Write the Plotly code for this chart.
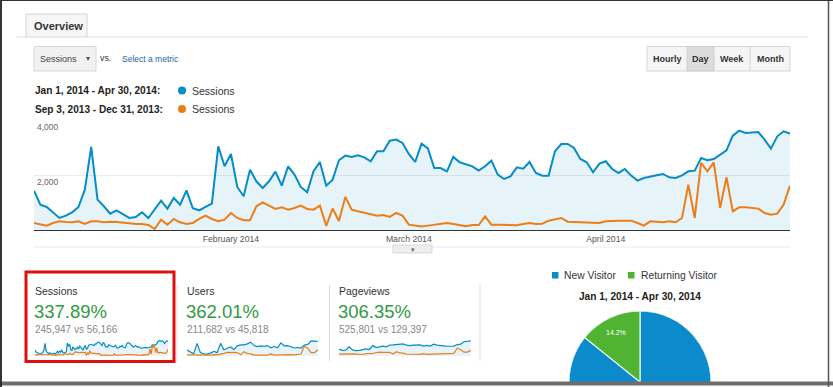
import math
import pandas as pd
import plotly.graph_objects as go

W, H = 833, 387

# ---------------- data ----------------
DATES = pd.date_range("2014-01-01", "2014-04-30", freq="D")

SESSIONS_2014 = [
    1442, 933, 848, 650, 448, 533, 654, 848, 1478, 3030,
    1115, 873, 606, 727, 594, 448, 485, 654, 448, 751,
    1079, 788, 1176, 933, 1454, 800, 727, 848, 970, 3054,
    2327, 2775, 1576, 1236, 2206, 1782, 1539, 1782, 2133, 1624,
    2327, 2024, 1576, 1382, 2145, 2485, 1624, 1842, 2545, 2715,
    2667, 2727, 2654, 2509, 2872, 2872, 3260, 3297, 3175, 2775,
    2485, 3150, 2980, 2266, 2266, 2145, 2667, 2472, 2388, 2327,
    2169, 2327, 2533, 2024, 1866, 1963, 2290, 2242, 2485, 2085,
    1988, 1988, 2872, 3139, 3139, 2994, 2594, 2472, 2109, 2424,
    2509, 2230, 2085, 2230, 1988, 1806, 1903, 1963, 2000, 2048,
    1927, 1903, 2000, 2145, 2169, 2630, 2545, 2594, 2751, 2909,
    3442, 3624, 3539, 3563, 3575, 3297, 2969, 3418, 3600, 3515,
]
SESSIONS_2013 = [
    267, 206, 170, 267, 327, 303, 291, 327, 230, 327,
    327, 291, 315, 303, 267, 255, 230, 230, 194, 48,
    388, 206, 412, 291, 230, 267, 412, 533, 412, 327,
    388, 630, 448, 364, 364, 873, 1018, 897, 776, 836,
    751, 812, 897, 776, 751, 897, 160, 790, 340, 1215,
    751, 691, 630, 570, 533, 557, 485, 630, 533, 206,
    170, 140, 170, 206, 242, 267, 230, 182, 145, 194,
    194, 509, 206, 206, 194, 170, 182, 230, 267, 230,
    242, 351, 388, 448, 315, 303, 291, 267, 255, 267,
    327, 351, 351, 351, 351, 267, 170, 327, 315, 291,
    327, 291, 448, 1660, 448, 2448, 2145, 2472, 812, 1927,
    691, 836, 836, 812, 788, 630, 570, 606, 933, 1624,
]

X_TICK_DATES = ["2014-02-01", "2014-03-01", "2014-04-01"]
X_TICK_LABELS = ["February 2014", "March 2014", "April 2014"]
Y_TICKS = [2000, 4000]
Y_TICK_LABELS = ["2,000", "4,000"]

RANGE_CURRENT = "Jan 1, 2014 - Apr 30, 2014"
RANGE_PREVIOUS = "Sep 3, 2013 - Dec 31, 2013"

METRIC_NAMES = ["Sessions", "Users", "Pageviews"]
METRIC_CHANGES = ["337.89%", "362.01%", "306.35%"]
METRIC_TOTALS = ["245,947 vs 56,166", "211,682 vs 45,818", "525,801 vs 129,397"]

# sparkline samples (every third day)
SPARK_DATES = DATES[::3]
USERS_2014 = [1250, 760, 450, 2600, 700, 420, 400, 600, 950, 700,
              2600, 1300, 1500, 1850, 1300, 2100, 2300, 2300, 2500, 2850,
              2150, 1950, 2100, 2000, 2150, 1700, 1950, 1700, 2700, 2100,
              2150, 1850, 1650, 1750, 1650, 2250, 2400, 3100, 3050, 3000]
USERS_2013 = [230, 250, 270, 280, 270, 220, 200, 180, 300, 250,
              350, 550, 750, 700, 700, 700, 250, 900, 500, 450,
              200, 150, 200, 200, 170, 420, 170, 200, 300, 250,
              260, 300, 250, 270, 400, 2000, 1600, 700, 700, 1300]
PAGEVIEWS_2014 = [3200, 2600, 2700, 4200, 2800, 2500, 2600, 2900, 3300, 3000,
                  4800, 3900, 4300, 4600, 4200, 5000, 5100, 5200, 5300, 5600,
                  5000, 4800, 5000, 4900, 5100, 4600, 4900, 4600, 5500, 5000,
                  5000, 4700, 4500, 4700, 4600, 5300, 5500, 6600, 6800, 7000]
PAGEVIEWS_2013 = [900, 1000, 1000, 1100, 1000, 900, 800, 700, 1100, 1000,
                  1200, 1500, 1800, 1700, 1700, 1700, 900, 2000, 1400, 1300,
                  800, 700, 800, 800, 750, 1100, 750, 800, 1000, 900,
                  950, 1000, 950, 1000, 1200, 3600, 3000, 1800, 1800, 2600]

VISITOR_TYPES = ["New Visitor", "Returning Visitor"]
VISITOR_SHARES = [85.8, 14.2]

BUTTONS = ["Hourly", "Day", "Week", "Month"]

# ---------------- style ----------------
BLUE = "#058dc7"
ORANGE = "#ed7e17"
FILL = "rgba(5,141,199,0.10)"
PIE_BLUE = "#0b8bcb"
PIE_GREEN = "#50b432"
GREEN_TXT = "#339a45"
FONT = "Liberation Sans"


def px(x):
    return x / W


def py(y):
    return 1 - y / H


fig = go.Figure()

# main chart
fig.add_trace(go.Scatter(x=DATES, y=SESSIONS_2014, mode="lines", fill="tozeroy",
                         fillcolor=FILL, line=dict(color=BLUE, width=2),
                         xaxis="x", yaxis="y", hoverinfo="skip"))
fig.add_trace(go.Scatter(x=DATES, y=SESSIONS_2013, mode="lines",
                         line=dict(color=ORANGE, width=2),
                         xaxis="x", yaxis="y", hoverinfo="skip"))

# sparklines
sparks = [
    (DATES, SESSIONS_2014, SESSIONS_2013),
    (SPARK_DATES, USERS_2014, USERS_2013),
    (SPARK_DATES, PAGEVIEWS_2014, PAGEVIEWS_2013),
]
for k, (xs, cur, prev) in enumerate(sparks):
    ax = str(k + 2)
    fig.add_trace(go.Scatter(x=xs, y=cur, mode="lines", fill="tozeroy",
                             fillcolor=FILL, line=dict(color=BLUE, width=1.2),
                             xaxis="x" + ax, yaxis="y" + ax, hoverinfo="skip"))
    fig.add_trace(go.Scatter(x=xs, y=prev, mode="lines",
                             line=dict(color=ORANGE, width=1.2),
                             xaxis="x" + ax, yaxis="y" + ax, hoverinfo="skip"))

# pie (shown as the upper half, clipped by the frame)
total = sum(VISITOR_SHARES)
widths = [s / total * 360 for s in VISITOR_SHARES]
start_green = 90.0
green_center = start_green + widths[1] / 2
blue_center = start_green + widths[1] + widths[0] / 2
fig.add_trace(go.Barpolar(r=[1, 1], theta=[blue_center, green_center],
                          width=[widths[0], widths[1]],
                          marker=dict(color=[PIE_BLUE, PIE_GREEN],
                                      line=dict(color="#e8f4ea", width=1.2)),
                          subplot="polar", hoverinfo="skip"))

PIE_CX, PIE_CY, PIE_R = 640, 382, 71

layout = dict(
    template="none",
    width=W, height=H,
    margin=dict(l=0, r=0, t=0, b=0, pad=0, autoexpand=False),
    paper_bgcolor="white", plot_bgcolor="rgba(0,0,0,0)",
    showlegend=False,
    font=dict(family=FONT, color="#333"),
    xaxis=dict(domain=[px(34), px(790)], type="date",
               range=["2014-01-01", "2014-04-30"],
               tickvals=X_TICK_DATES, ticktext=X_TICK_LABELS,
               showgrid=False, zeroline=False, showline=True,
               linecolor="#333", linewidth=1, ticks="", automargin=False,
               tickfont=dict(size=8.7, color="#555"), fixedrange=True),
    yaxis=dict(domain=[py(230.3), py(120.3)], range=[0, 4000],
               tickvals=Y_TICKS, ticktext=Y_TICK_LABELS,
               showgrid=True, gridcolor="#ebebeb", gridwidth=1, zeroline=False,
               showline=False, ticks="", ticklabelposition="inside",
               ticklabelshift=7, ticklabeloverflow="allow", automargin=False,
               tickfont=dict(size=8.5, color="#666"), fixedrange=True),
    polar=dict(domain=dict(x=[px(PIE_CX - PIE_R), px(PIE_CX + PIE_R)],
                           y=[py(PIE_CY), py(PIE_CY - PIE_R)]),
               sector=[0, 180], bgcolor="rgba(0,0,0,0)",
               radialaxis=dict(visible=False, range=[0, 1]),
               angularaxis=dict(visible=False, rotation=0,
                                direction="counterclockwise")),
)

spark_x = [(35, 168), (187, 320), (339, 473)]
spark_max = [3800, 3300, 7400]
for k, (x0, x1) in enumerate(spark_x):
    ax = str(k + 2)
    layout["xaxis" + ax] = dict(domain=[px(x0), px(x1)], visible=False,
                                range=["2014-01-01", "2014-04-30"],
                                type="date", fixedrange=True, automargin=False)
    layout["yaxis" + ax] = dict(domain=[py(356), py(340)], visible=False,
                                range=[0, spark_max[k]], fixedrange=True,
                                automargin=False)

shapes = []


def rect(x0, y0, x1, y1, fill=None, line=None, lw=1, layer="above"):
    shapes.append(dict(type="rect", xref="paper", yref="paper",
                       x0=px(x0), x1=px(x1), y0=py(y1), y1=py(y0),
                       fillcolor=fill or "rgba(0,0,0,0)",
                       line=dict(color=line or "rgba(0,0,0,0)", width=lw if line else 0),
                       layer=layer))


def hline(x0, x1, y, color, lw=1):
    shapes.append(dict(type="line", xref="paper", yref="paper",
                       x0=px(x0), x1=px(x1), y0=py(y), y1=py(y),
                       line=dict(color=color, width=lw)))


def vline(x, y0, y1, color, lw=1):
    shapes.append(dict(type="line", xref="paper", yref="paper",
                       x0=px(x), x1=px(x), y0=py(y0), y1=py(y1),
                       line=dict(color=color, width=lw)))


# tab
rect(26, 14, 87, 37, fill="#f6f6f6", line="#d4d4d4", layer="below")
hline(16, 808, 37, "#dcdcdc")
hline(27, 86, 37, "#f6f6f6")
# dropdown
rect(34, 46.5, 96, 71, fill="#f1f1f1", line="#d6d6d6", layer="below")
# buttons
rect(647, 46.5, 790, 71, fill="#f5f5f5", line="#d6d6d6", layer="below")
rect(687, 46.5, 714, 71, fill="#dcdcdc", line="#cfcfcf", layer="below")
vline(750, 46.5, 71, "#d6d6d6")
# legend dots
for yy, col in [(90.5, BLUE), (109, ORANGE)]:
    shapes.append(dict(type="circle", xref="paper", yref="paper",
                       x0=px(178), x1=px(186), y0=py(yy + 4), y1=py(yy - 4),
                       fillcolor=col, line=dict(width=0)))
# chart bottom and handle
hline(34, 790, 247, "#ececec")
rect(393, 245, 432, 253, fill="#eeeeee", line="#d8d8d8", layer="above")
# red box
rect(26, 272, 174, 361.5, line="#dd1010", lw=3)
# separators
for xx in [177, 329.5, 480]:
    vline(xx, 285, 361, "#dddddd")
# pie legend squares
rect(552, 272, 558.5, 278.5, fill=PIE_BLUE)
rect(628, 272, 634.5, 278.5, fill=PIE_GREEN)
# frame
hline(0, 833, 383.5, "#6e6e6e", 4)
vline(1, 0, 387, "#333", 2)
vline(828.5, 0, 387, "#555", 1.5)
hline(0, 833, 0.5, "#333", 1)

annotations = []
PAD = 2  # annotation inner padding compensation for left-anchored text


def text(x, y, s, size, color="#333", bold=False, anchor="left"):
    xx = x - PAD if anchor == "left" else x
    annotations.append(dict(xref="paper", yref="paper", x=px(xx), y=py(y),
                            text=f"<b>{s}</b>" if bold else s, showarrow=False,
                            xanchor=anchor, yanchor="middle",
                            font=dict(size=size, color=color, family=FONT)))


text(33.5, 26, "Overview", 11, "#333", True)
text(40, 58.5, "Sessions", 9, "#444")
text(87.5, 58.5, "▾", 8, "#555", anchor="center")
text(100, 58, "vs.", 8.8, "#333")
text(122, 58.5, "Select a metric", 8.5, "#1f5fa8")
btn_centers = [667, 700.5, 732, 770]
for b, c in zip(BUTTONS, btn_centers):
    text(c, 58.5, b, 9, "#333", True, anchor="center")
text(34.5, 90.5, RANGE_CURRENT + ":", 10.1, "#222", True)
text(191.5, 90.5, "Sessions", 10.5, "#333")
text(34.5, 109, RANGE_PREVIOUS + ":", 10.1, "#222", True)
text(191.5, 109, "Sessions", 10.5, "#333")
text(412.5, 249, "▾", 7, "#666", anchor="center")

card_x = [34.5, 186.5, 338.5]
for k in range(3):
    text(card_x[k], 291, METRIC_NAMES[k], 10.5, "#333")
    text(card_x[k] - 1, 311.5, METRIC_CHANGES[k], 18.5, GREEN_TXT)
    text(card_x[k], 329.5, METRIC_TOTALS[k], 10, "#888")

text(564, 275, VISITOR_TYPES[0], 10.3, "#333")
text(640.5, 275, VISITOR_TYPES[1], 10.3, "#333")
text(640, 296, RANGE_CURRENT, 10.1, "#222", True, anchor="center")

ang = math.radians(green_center)
lx = PIE_CX + math.cos(ang) * PIE_R * 0.78
ly = PIE_CY - math.sin(ang) * PIE_R * 0.78
text(lx, ly, f"{VISITOR_SHARES[1]}%", 7, "white", anchor="center")

layout["shapes"] = shapes
layout["annotations"] = annotations
fig.update_layout(**layout)

fig.write_html("out.html", config={"displayModeBar": False, "staticPlot": True},
               post_script="document.body.style.margin='0px';document.body.style.overflow='hidden';")
